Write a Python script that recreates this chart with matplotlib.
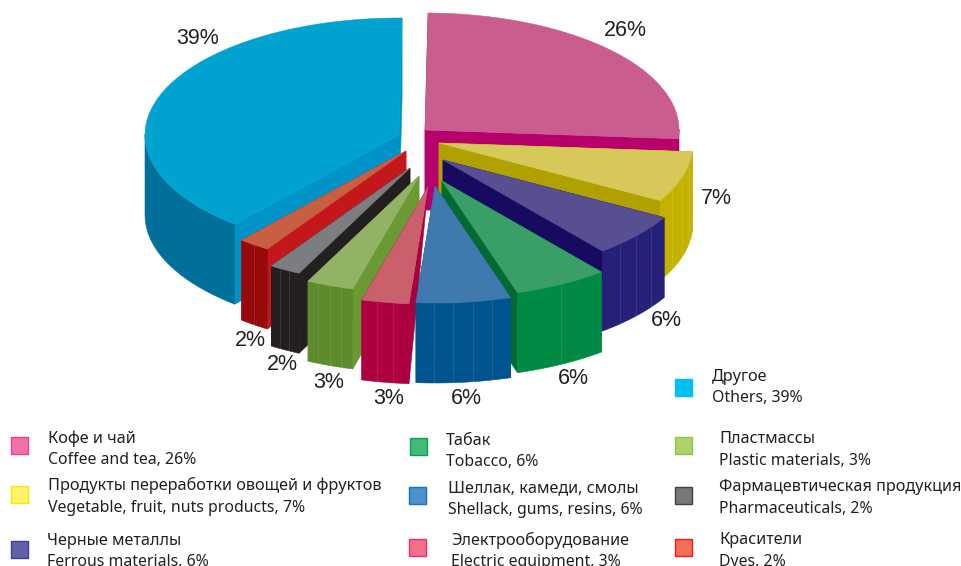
import numpy as np
import matplotlib
matplotlib.use("Agg")
import matplotlib.pyplot as plt
from matplotlib.patches import Polygon, Rectangle

# ---- data (clockwise from the top)
categories = ["Coffee", "Vegetable", "Ferrous", "Tobacco", "Shellac",
              "Electric", "Plastic", "Pharma", "Dyes", "Others"]
values = [26, 7, 6, 6, 6, 3, 3, 2, 2, 39]
value_labels = ["26%", "7%", "6%", "6%", "6%", "3%", "3%", "2%", "2%", "39%"]

legend_ru = ["Кофе и чай", "Продукты переработки овощей и фруктов", "Черные металлы",
             "Табак", "Шеллак, камеди, смолы", "Электрооборудование",
             "Пластмассы", "Фармацевтическая продукция", "Красители", "Другое"]
legend_en = ["Coffee and tea, 26%", "Vegetable, fruit, nuts products, 7%", "Ferrous materials, 6%",
             "Tobacco, 6%", "Shellack, gums, resins, 6%", "Electric equipment, 3%",
             "Plastic materials, 3%", "Pharmaceuticals, 2%", "Dyes, 2%", "Others, 39%"]

# ---- style
top_col = ["#c95d90", "#d6c95a", "#574f92", "#3a9e69", "#3f79ae",
           "#c9606c", "#92b266", "#7b7d80", "#c95f42", "#00a3d0"]
wall_col = ["#b8006d", "#b0a000", "#170a60", "#036a32", "#00558f",
            "#a90040", "#6a9a34", "#231f20", "#c4171c", "#0093c8"]
side_col = ["#a8005f", "#c4b200", "#262178", "#008a45", "#00558f",
            "#ac0040", "#5e8b2c", "#231f20", "#960a0a", "#00709a"]
facets = [1, 4, 4, 2, 5, 3, 4, 3, 2, 1]
explode_x = [0, 14, 18, 17, 10, 3, -6, -15, -19, -26]
explode_y = [0, 13, 30, 51, 56, 57, 46, 38, 21, 5]
inner_depth = [80, 80, 80, 80, 80, 0, 80, 80, 80, 80]
draw_order = [9, 0, 8, 1, 7, 2, 6, 3, 5, 4]
label_x = [625, 716, 666, 573, 466, 389, 329, 282, 250, 198]
label_y = [30, 198, 321, 379, 399, 399, 382, 365, 340, 39]

leg_face = ["#f071aa", "#fff467", "#6060aa", "#45b97c", "#4d90cd",
            "#f37088", "#afd36c", "#77787b", "#f46f52", "#00bff3"]
leg_edge = ["#ec3f8f", "#ffe600", "#3b3f97", "#00a651", "#0f75bc",
            "#ee2a7b", "#8dc63f", "#414042", "#ed1c24", "#00bff3"]
leg_x = [20, 20, 20, 419, 418, 418, 684, 684, 684, 684]
leg_y = [445, 494, 549, 446, 495, 547, 445, 495, 547, 387]
txt_x = [48, 48, 47, 446, 448, 451, 719, 719, 719, 712]
txt_y1 = [443, 490, 545, 445, 492, 545, 443, 491, 544, 381]
txt_y2 = [464, 512, 566, 466, 514, 566, 465, 513, 566, 402]

CX, CY, RX, RY, H = 425, 130, 254, 117, 80
START = 89.3
FONT = "Noto Sans"
TXT = "#231f20"

fig = plt.figure(figsize=(9.62, 5.66), dpi=100)
ax = fig.add_axes([0, 0, 1, 1])
ax.set_xlim(0, 962)
ax.set_ylim(566, 0)
ax.axis("off")

fracs = np.array(values) / sum(values) * 360
ends = START - np.cumsum(fracs)
starts = ends + fracs


def arc(i, n=60):
    t = np.radians(np.linspace(starts[i], ends[i], n))
    ax0 = CX + explode_x[i]
    ay0 = CY + explode_y[i]
    return ax0 + RX * np.cos(t), ay0 - RY * np.sin(t), ax0, ay0


for z, i in enumerate(draw_order):
    x, y, ax0, ay0 = arc(i)
    base = 2 + z * 2
    d = inner_depth[i]
    # radial walls
    for xe, ye in ((x[0], y[0]), (x[-1], y[-1])):
        ax.add_patch(Polygon([(ax0, ay0), (xe, ye), (xe, ye + H), (ax0, ay0 + d)],
                             closed=True, fc=wall_col[i], ec=wall_col[i], lw=0.4, zorder=base))
    # outer wall: only the part facing the viewer
    mask = np.sin(np.radians(np.linspace(starts[i], ends[i], 60))) <= 0.02
    if mask.any():
        xs, ys = x[mask], y[mask]
        pts = list(zip(xs, ys)) + list(zip(xs[::-1], ys[::-1] + H))
        ax.add_patch(Polygon(pts, closed=True, fc=side_col[i], ec=side_col[i], lw=0.4, zorder=base))
        for k in range(1, facets[i]):
            j = int(len(xs) * k / facets[i])
            ax.plot([xs[j], xs[j]], [ys[j], ys[j] + H], color="white", alpha=0.10, lw=0.8,
                    zorder=base + 0.5)
    # top
    pts = [(ax0, ay0)] + list(zip(x, y))
    ax.add_patch(Polygon(pts, closed=True, fc=top_col[i], ec=top_col[i], lw=0.4, zorder=base + 1))

for lx, ly, s in zip(label_x, label_y, value_labels):
    ax.text(lx, ly, s, fontsize=15.5, family="Liberation Sans", color=TXT,
            ha="center", va="center", zorder=60)

S = 17
for i in range(len(categories)):
    ax.add_patch(Rectangle((leg_x[i] - S / 2, leg_y[i] - S / 2), S, S, fc=leg_face[i],
                           ec=leg_edge[i], lw=1.0, zorder=60))
    ax.text(txt_x[i], txt_y1[i], legend_ru[i], fontsize=11.7, family=FONT, color=TXT,
            ha="left", va="baseline", zorder=60)
    ax.text(txt_x[i], txt_y2[i], legend_en[i], fontsize=11.4, family=FONT, color=TXT,
            ha="left", va="baseline", zorder=60, clip_on=True)

fig.savefig("out.png", dpi=100, facecolor="white")
